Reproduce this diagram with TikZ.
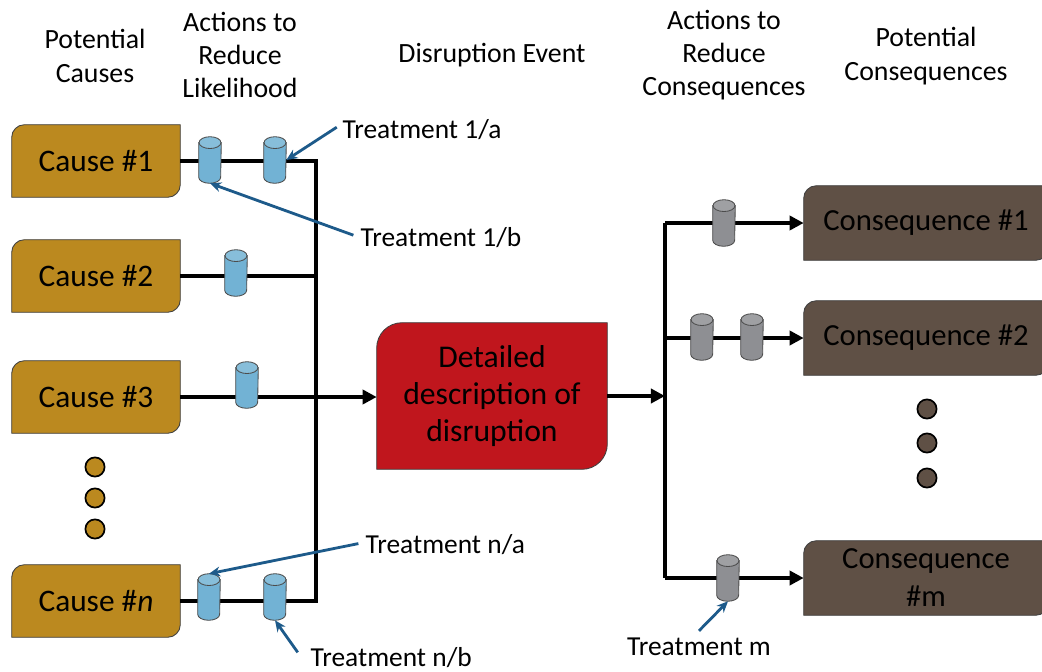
\documentclass[tikz,border=0pt]{standalone}
\usepackage{fontspec}
\setmainfont{Carlito}
\usetikzlibrary{arrows.meta,backgrounds}
\definecolor{causegold}{RGB}{187,137,31}
\definecolor{eventred}{RGB}{192,22,29}
\definecolor{effectbrown}{RGB}{95,80,69}
\definecolor{barrierblue}{RGB}{114,178,212}
\definecolor{barriergray}{RGB}{142,143,147}
\definecolor{pointerblue}{RGB}{29,90,138}

\begin{document}
\begin{tikzpicture}[x=0.025cm, y=-0.025cm,
  flow/.style={line width=2.6pt},
  arr/.style={flow, -{Triangle[length=10pt,width=10pt]}},
  pointer/.style={pointerblue, line width=2pt, -{Stealth[length=8pt,width=7pt]}},
  head/.style={align=center, font=\fontsize{19.8}{23.7}\selectfont},
  treat/.style={font=\fontsize{19.5}{23}\selectfont, inner sep=1pt},
  cause/.style={minimum width=4.2cm, minimum height=1.8cm, font=\fontsize{22.3}{26}\selectfont},
  effect/.style={minimum width=6.1cm, minimum height=1.85cm, align=center, font=\fontsize{21.8}{27}\selectfont},
  barrier/.style={minimum width=0.55cm, minimum height=1.15cm, inner sep=0pt},
  dot/.style={circle, draw=black, line width=1.2pt, fill=#1, minimum size=0.48cm, inner sep=0pt}
]
\useasboundingbox (0,0) rectangle (1042,672);

\node[head] (hcause) at (95,56) {Potential\\Causes};
\node[head] (hlikely) at (240,55) {Actions to\\Reduce\\Likelihood};
\node[head] (hevent) at (492,55) {Disruption Event};
\node[head] (hreduce) at (724,55) {Actions to\\Reduce\\Consequences};
\node[head] (heffect) at (926,56) {Potential\\Consequences};

\node[cause] (c1) at (96,161) {Cause \#1};
\node[cause] (c2) at (96,276) {Cause \#2};
\node[cause] (c3) at (96,397) {Cause \#3};
\node[cause] (cn) at (96,601) {Cause \#\textit{n}};

\node[align=center, minimum width=5.75cm, minimum height=3.65cm,
  font=\fontsize{22.5}{26}\selectfont] (event) at (492,396) {Detailed\\description of\\disruption};

\node[effect] (k1) at (926,223) {Consequence \#1};
\node[effect] (k2) at (926,338) {Consequence \#2};
\node[effect] (km) at (926,578) {Consequence\\\#m};

\foreach \i/\y in {1/467,2/498,3/529}
  \node[dot=causegold] (d\i) at (95,\y) {};
\foreach \i/\y in {1/409,2/443,3/478}
  \node[dot=effectbrown] (e\i) at (927,\y) {};

\begin{scope}[on background layer]
\foreach \b/\col/\r in {c1/causegold/9pt, c2/causegold/9pt, c3/causegold/9pt, cn/causegold/9pt,
    event/eventred/18pt, k1/effectbrown/9pt, k2/effectbrown/9pt, km/effectbrown/9pt}
  \filldraw[fill=\col, draw=black!75, line width=0.6pt]
    (\b.south west) -- (\b.west) {[rounded corners=\r] -- (\b.north west) -- (\b.north)}
    -- (\b.north east) -- (\b.east) {[rounded corners=\r] -- (\b.south east) -- (\b.south)} -- cycle;
\end{scope}

\coordinate (ltop) at (316,161);
\coordinate (lbot) at (316,601);
\coordinate (rbus) at (665,0);
\coordinate (rtop) at (665,223);
\coordinate (rbot) at (665,578);

\draw[flow] (c1.east) -- (ltop) -- (lbot) -- (cn.east);
\draw[flow] (c2.east) -- (c2.east -| ltop);
\draw[arr] (c3.east) -- (c3.east -| event.west);
\draw[arr] (event.east) -- (event.east -| rbus);
\draw[flow] (rtop) -- (rbot);
\draw[arr] (rtop) -- (k1.west);
\draw[arr] (rtop |- k2.west) -- (k2.west);
\draw[arr] (rbot) -- (km.west);

\node[barrier] (v1a) at (210,160) {};
\node[barrier] (v1b) at (275,160) {};
\node[barrier] (v2) at (236,273) {};
\node[barrier] (v3) at (247,385) {};
\node[barrier] (vna) at (209,597) {};
\node[barrier] (vnb) at (275,597) {};
\node[barrier] (w1) at (724,223) {};
\node[barrier] (w2a) at (702,337) {};
\node[barrier] (w2b) at (752,337) {};
\node[barrier] (wm) at (728,578) {};

\foreach \v/\col in {v1a/barrierblue, v1b/barrierblue, v2/barrierblue, v3/barrierblue,
    vna/barrierblue, vnb/barrierblue, w1/barriergray, w2a/barriergray, w2b/barriergray, wm/barriergray} {
  \filldraw[fill=\col, draw=black!70, line width=0.6pt]
    ([yshift=-4.2pt]\v.north west) -- ([yshift=4.2pt]\v.south west)
    arc[start angle=180, end angle=360, x radius=7.8pt, y radius=4.2pt]
    -- ([yshift=-4.2pt]\v.north east) -- cycle;
  \filldraw[fill=\col!85!white, draw=black!70, line width=0.6pt]
    ([yshift=-4.2pt]\v.north) ellipse[x radius=7.8pt, y radius=4.2pt];
}

\node[treat, anchor=west] (t1a) at (341,130) {Treatment 1/a};
\node[treat, anchor=west] (t1b) at (359,238) {Treatment 1/b};
\node[treat, anchor=west] (tna) at (364,545) {Treatment n/a};
\node[treat, anchor=west] (tnb) at (309,658) {Treatment n/b};
\node[treat] (tm) at (699,647) {Treatment m};

\draw[pointer] ([xshift=-3pt,yshift=2pt]t1a.west) -- (v1b.east);
\draw[pointer] ([xshift=-4pt,yshift=2pt]t1b.west) -- (v1a.south);
\draw[pointer] ([xshift=-4pt,yshift=1pt]tna.west) -- (vna.north);
\draw[pointer] ([xshift=-8pt,yshift=4pt]tnb.west) -- (vnb.south);
\draw[pointer] ([yshift=4pt]tm.north) -- (wm.south);
\end{tikzpicture}
\end{document}
